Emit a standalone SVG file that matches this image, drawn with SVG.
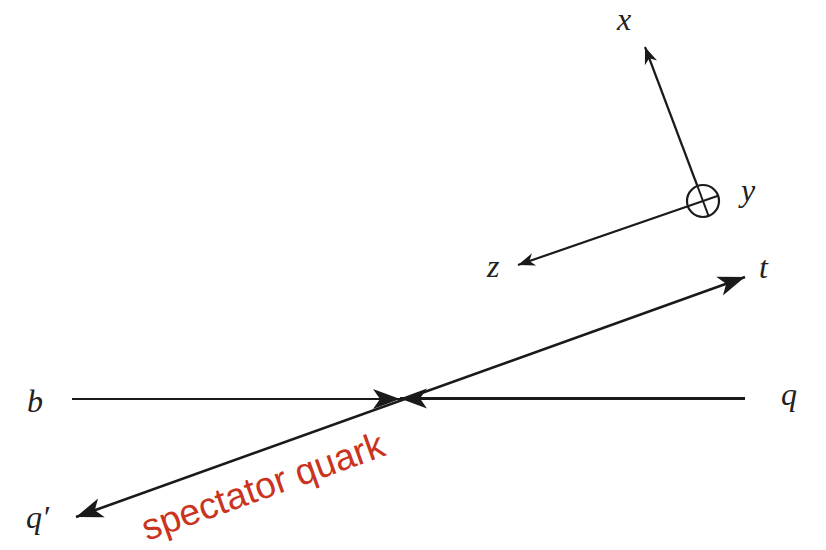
<svg xmlns="http://www.w3.org/2000/svg" width="826" height="550" viewBox="0 0 826 550">
<style>
.ln{stroke:#1a1a1a;fill:none;stroke-linecap:butt}
.m{font-family:"Liberation Serif","DejaVu Serif",serif;font-style:italic;font-size:32px;fill:#222}
.red{font-family:"Liberation Sans","Helvetica",sans-serif;font-size:37px;fill:#c9341f}
</style>
<defs>
<marker id="big" markerUnits="userSpaceOnUse" viewBox="-28 -11 30 22" markerWidth="30" markerHeight="22" refX="0" refY="0" orient="auto-start-reverse">
<path d="M0,0 L-27,-10 L-20,0 L-27,10 Z" fill="#1a1a1a"/>
</marker>
<marker id="sm" markerUnits="userSpaceOnUse" viewBox="-18 -8 20 16" markerWidth="20" markerHeight="16" refX="0" refY="0" orient="auto">
<path d="M0,0 L-17,-6.5 L-12,0 L-17,6.5 Z" fill="#1a1a1a"/>
</marker>
</defs>
<rect width="826" height="550" fill="#fff"/>
<g id="connectors">
<line class="ln" x1="72" y1="399" x2="400" y2="399" stroke-width="2.2" marker-end="url(#big)"/>
<line class="ln" x1="745" y1="398.5" x2="400" y2="398.5" stroke-width="3.2" marker-end="url(#big)"/>
<line class="ln" x1="76" y1="517" x2="745" y2="277" stroke-width="2.6" marker-start="url(#big)" marker-end="url(#big)"/>
<line class="ln" x1="697.4" y1="186" x2="645" y2="47" stroke-width="2.2" marker-end="url(#sm)"/>
<line class="ln" x1="687.9" y1="206.2" x2="518" y2="265" stroke-width="2.2" marker-end="url(#sm)"/>
</g>
<g id="origin">
<circle cx="703" cy="201" r="16" fill="#fff" stroke="#1a1a1a" stroke-width="2.2"/>
<line class="ln" x1="697.4" y1="186" x2="708.6" y2="216" stroke-width="2"/>
<line class="ln" x1="687.9" y1="206.2" x2="718.1" y2="195.8" stroke-width="2"/>
</g>
<g id="label-x"><text class="m" x="617" y="30">x</text></g>
<g id="label-y"><text class="m" x="741" y="201">y</text></g>
<g id="label-z"><text class="m" x="487" y="277">z</text></g>
<g id="label-t"><text class="m" x="759" y="278">t</text></g>
<g id="label-b"><text class="m" x="27" y="412">b</text></g>
<g id="label-q"><text class="m" x="781" y="405">q</text></g>
<g id="label-qp"><text class="m" x="26" y="528">q′</text></g>
<g id="label-spectator"><text class="red" transform="translate(147,541) rotate(-19.7)">spectator quark</text></g>
</svg>
